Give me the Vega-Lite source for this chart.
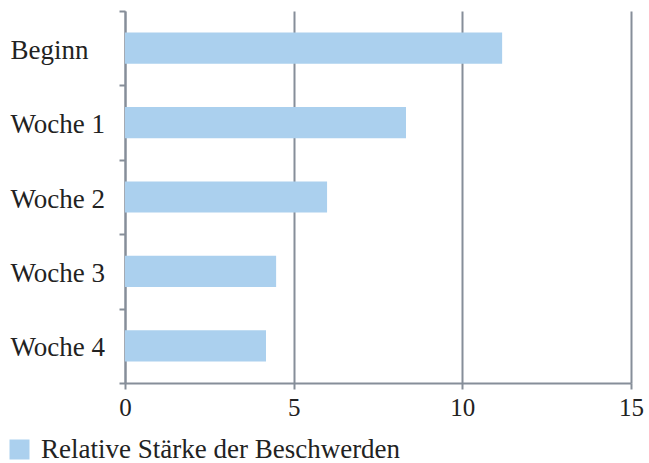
{
  "$schema": "https://vega.github.io/schema/vega-lite/v6.json",
  "width": 506,
  "height": 372,
  "autosize": {"type": "none"},
  "padding": {"left": 125, "top": 11, "right": 18, "bottom": 80},
  "background": "white",
  "config": {
    "view": {"stroke": null},
    "font": "Liberation Serif"
  },
  "data": {
    "values": [
      {"kategorie": "Beginn", "wert": 11.18, "serie": "Relative Stärke der Beschwerden"},
      {"kategorie": "Woche 1", "wert": 8.33, "serie": "Relative Stärke der Beschwerden"},
      {"kategorie": "Woche 2", "wert": 5.99, "serie": "Relative Stärke der Beschwerden"},
      {"kategorie": "Woche 3", "wert": 4.48, "serie": "Relative Stärke der Beschwerden"},
      {"kategorie": "Woche 4", "wert": 4.18, "serie": "Relative Stärke der Beschwerden"}
    ]
  },
  "mark": {"type": "bar", "orient": "horizontal", "height": {"band": 0.42}},
  "encoding": {
    "y": {
      "field": "kategorie",
      "type": "nominal",
      "sort": null,
      "scale": {"paddingInner": 0, "paddingOuter": 0},
      "axis": {
        "title": null,
        "domainColor": "#868e99",
        "domainWidth": 2,
        "tickColor": "#868e99",
        "tickWidth": 2,
        "tickSize": 6,
        "tickBand": "extent",
        "labelAlign": "left",
        "labelPadding": 109,
        "labelFont": "Liberation Serif",
        "labelFontSize": 27,
        "labelColor": "#222222",
        "labelOffset": 2,
        "grid": false
      }
    },
    "x": {
      "field": "wert",
      "type": "quantitative",
      "scale": {"domain": [0, 15], "nice": false},
      "axis": {
        "title": null,
        "values": [0, 5, 10, 15],
        "domainColor": "#868e99",
        "domainWidth": 2,
        "tickColor": "#868e99",
        "tickWidth": 2,
        "tickSize": 6,
        "labelPadding": 6,
        "labelFont": "Liberation Serif",
        "labelFontSize": 25,
        "labelColor": "#222222",
        "grid": true,
        "gridColor": "#868e99",
        "gridWidth": 2,
        "labelFlush": false
      }
    },
    "color": {
      "field": "serie",
      "type": "nominal",
      "scale": {"range": ["#abd0ee"]},
      "legend": {
        "title": null,
        "orient": "none",
        "legendX": -119,
        "legendY": 425,
        "symbolType": "square",
        "symbolSize": 400,
        "symbolStrokeWidth": 0,
        "symbolOpacity": 1,
        "labelFont": "Liberation Serif",
        "labelFontSize": 27,
        "labelColor": "#222222",
        "labelOffset": 8,
        "labelLimit": 500
      }
    }
  }
}
